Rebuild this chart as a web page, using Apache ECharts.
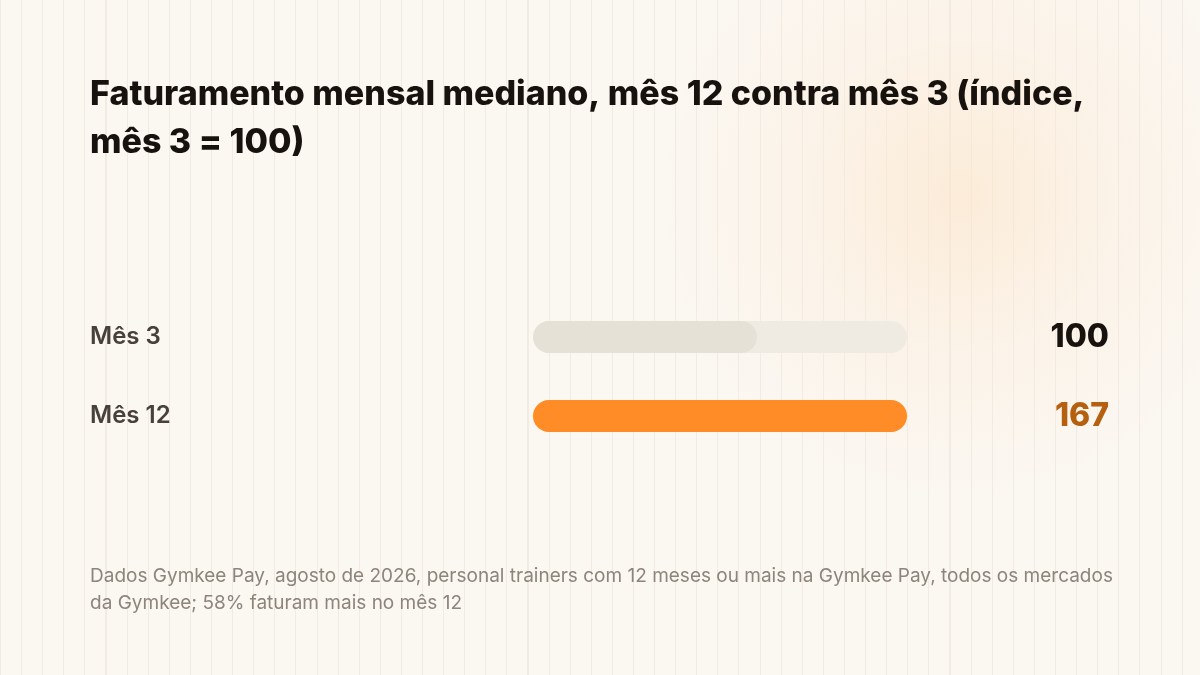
<!DOCTYPE html>
<html>
<head>
<meta charset="utf-8">
<script src="https://cdn.jsdelivr.net/npm/echarts@6/dist/echarts.min.js"></script>
<style>
  html, body { margin: 0; padding: 0; }
  body {
    width: 1200px; height: 675px; overflow: hidden;
    background-color: #fbf7f1;
    background-image:
      radial-gradient(circle at 960px 195px, rgba(252, 228, 200, 0.6) 0, rgba(252, 234, 214, 0.3) 160px, rgba(251, 247, 241, 0) 300px),
      repeating-linear-gradient(90deg, #f1ebe3 0, #f1ebe3 1px, transparent 1px, transparent 21.1px);
  }
  #chart { width: 1200px; height: 675px; }
</style>
</head>
<body>
<div id="chart"></div>
<script>
// dados
var categorias = ['Mês 3', 'Mês 12'];
var valores = [100, 167];
var titulo = 'Faturamento mensal mediano, mês 12 contra mês 3 (índice,\nmês 3 = 100)';
var nota = 'Dados Gymkee Pay, agosto de 2026, personal trainers com 12 meses ou mais na Gymkee Pay, todos os mercados\nda Gymkee; 58% faturam mais no mês 12';

var font = 'Inter';
var corBarras = ['#e6e1d7', '#ff8c26'];

var et = echarts.init(document.getElementById('chart'));
et.setOption({
    backgroundColor: 'transparent',
    textStyle: { fontFamily: font },
    title: [{
        text: titulo,
        left: 90,
        top: 71,
        padding: 0,
        textStyle: { fontSize: 34, fontWeight: 800, color: '#17120e', lineHeight: 48, fontFamily: font }
    }, {
        text: nota,
        left: 90,
        top: 563,
        padding: 0,
        textStyle: { fontSize: 19, fontWeight: 400, color: '#8d857c', lineHeight: 27, fontFamily: font }
    }],
    grid: { left: 533, right: 293, top: 297.5, bottom: 219.5 },
    xAxis: {
        type: 'value',
        min: 0,
        max: Math.max.apply(null, valores),
        show: false
    },
    yAxis: [{
        type: 'category',
        data: categorias,
        inverse: true,
        axisLine: { show: false },
        axisTick: { show: false },
        axisLabel: {
            align: 'left',
            margin: 443,
            fontSize: 24,
            fontWeight: 600,
            color: '#48413a',
            fontFamily: font
        }
    }, {
        type: 'category',
        data: valores.map(String),
        inverse: true,
        position: 'right',
        axisLine: { show: false },
        axisTick: { show: false },
        axisLabel: {
            align: 'right',
            margin: 202,
            formatter: function (v, i) {
                return i === valores.length - 1 ? '{hi|' + v + '}' : '{lo|' + v + '}';
            },
            rich: {
                lo: { fontSize: 32, fontWeight: 800, color: '#17120e', fontFamily: font },
                hi: { fontSize: 32, fontWeight: 800, color: '#b5600f', fontFamily: font }
            }
        }
    }],
    series: [{
        type: 'bar',
        data: valores.map(function (v, i) {
            return { value: v, itemStyle: { color: corBarras[i] } };
        }),
        barWidth: 32,
        showBackground: true,
        backgroundStyle: { color: '#efebe3', borderRadius: 16 },
        itemStyle: { borderRadius: 16 },
        silent: true
    }],
    animation: false
});
</script>
</body>
</html>
